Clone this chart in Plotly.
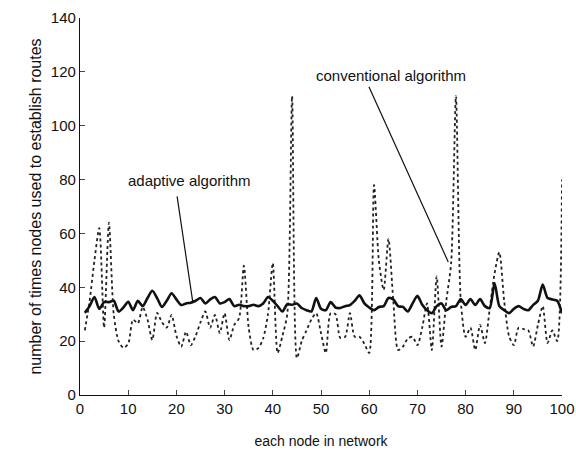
import plotly.graph_objects as go

nodes = list(range(1, 101))

conventional = [24, 35, 50, 62, 25, 64, 30, 20, 17.5, 19,
                28, 26.6, 32.7, 28, 20.4, 30.5, 27, 25, 29.7, 22,
                17.9, 23.5, 18.5, 22, 27, 31, 25, 29.7, 23, 30.4,
                20.4, 26, 28.5, 48, 25, 16.7, 17.4, 21, 30, 49,
                15.6, 22, 30, 111, 13.7, 20, 24, 28, 30.4, 23,
                15.6, 30.4, 30, 21.2, 21.6, 30.4, 21.6, 21.6, 19, 15.6,
                78, 50, 39, 58, 35, 16.7, 18, 21, 21.6, 18.5,
                25, 34, 16.7, 44, 18, 35, 49, 111, 35, 21.6,
                25, 16.7, 26, 19.3, 32, 45, 53, 35, 22, 18.5,
                25, 24.5, 24, 18, 26, 33, 19.3, 24, 20, 80]

adaptive = [30.5, 33, 36.4, 32, 34.5, 34.5, 35, 31, 32.5, 34.6,
            31.5, 35, 33, 36, 38.7, 36, 32.7, 35, 37.8, 35.5,
            33.4, 34, 34.3, 35, 36, 34, 35.5, 36.4, 34, 34.5,
            35.6, 33, 33.5, 33, 33, 33.5, 33, 34, 36.4, 35,
            33, 31, 33.7, 33.5, 34, 32.3, 31.5, 31, 36, 32,
            31.5, 34.5, 32.5, 32.3, 33, 33.4, 35, 37, 34, 32.5,
            31.5, 32.7, 33, 36, 35.5, 33, 32.7, 31, 34, 36.8,
            33.5, 31.5, 30.4, 33, 34, 31.5, 32.7, 33, 35.6, 33.4,
            35.6, 33.4, 35.6, 33, 32.3, 41.6, 33, 31.5, 30.4, 32,
            33, 32, 31.5, 33.4, 35, 41, 36, 35.5, 35, 30.4]

x_ticks = [0, 10, 20, 30, 40, 50, 60, 70, 80, 90, 100]
y_ticks = [0, 20, 40, 60, 80, 100, 120, 140]

FONT = "Liberation Sans, Arial, sans-serif"

fig = go.Figure()
fig.add_trace(go.Scatter(x=nodes, y=conventional, mode="lines",
                         line=dict(color="#222", width=1.8, dash="dot", shape="spline", smoothing=0.7),
                         name="conventional algorithm", showlegend=False))
fig.add_trace(go.Scatter(x=nodes, y=adaptive, mode="lines",
                         line=dict(color="#111", width=2.6, shape="spline", smoothing=0.7),
                         name="adaptive algorithm", showlegend=False))

# labels
fig.add_annotation(x=22.8, y=79.5, text="adaptive algorithm", showarrow=False,
                   font=dict(size=15, color="#111", family=FONT))
fig.add_annotation(x=64.5, y=118.5, text="conventional algorithm", showarrow=False,
                   font=dict(size=15, color="#111", family=FONT))
# leader lines
fig.add_annotation(x=23.4, y=34.5, ax=20.1, ay=74.3, axref="x", ayref="y",
                   text="", showarrow=True, arrowhead=0, arrowwidth=1.2, arrowcolor="#111")
fig.add_annotation(x=76.4, y=49.4, ax=59.8, ay=115, axref="x", ayref="y",
                   text="", showarrow=True, arrowhead=0, arrowwidth=1.2, arrowcolor="#111")

fig.update_layout(
    width=576, height=460,
    margin=dict(l=80, r=14, t=18, b=65),
    paper_bgcolor="white", plot_bgcolor="white",
    font=dict(family=FONT, color="#111"),
)
fig.update_xaxes(range=[0, 100], tickvals=x_ticks, ticks="inside", ticklen=5, automargin=False,
                 showline=True, linecolor="#111", linewidth=1.2, showgrid=False, zeroline=False,
                 tickfont=dict(size=15), title=dict(text="each node in network", font=dict(size=14), standoff=20))
fig.update_yaxes(range=[0, 140], tickvals=y_ticks, ticks="inside", ticklen=5, automargin=False,
                 showline=True, linecolor="#111", linewidth=1.2, showgrid=False, zeroline=False,
                 tickfont=dict(size=15),
                 title=dict(text="number of times nodes used to establish routes", font=dict(size=16), standoff=5))

# remove the default page margin so the 576x460 figure fills the window exactly
fig.write_html("out.html", config={"displayModeBar": False},
               post_script="document.body.style.margin='0';document.body.style.overflow='hidden';")
